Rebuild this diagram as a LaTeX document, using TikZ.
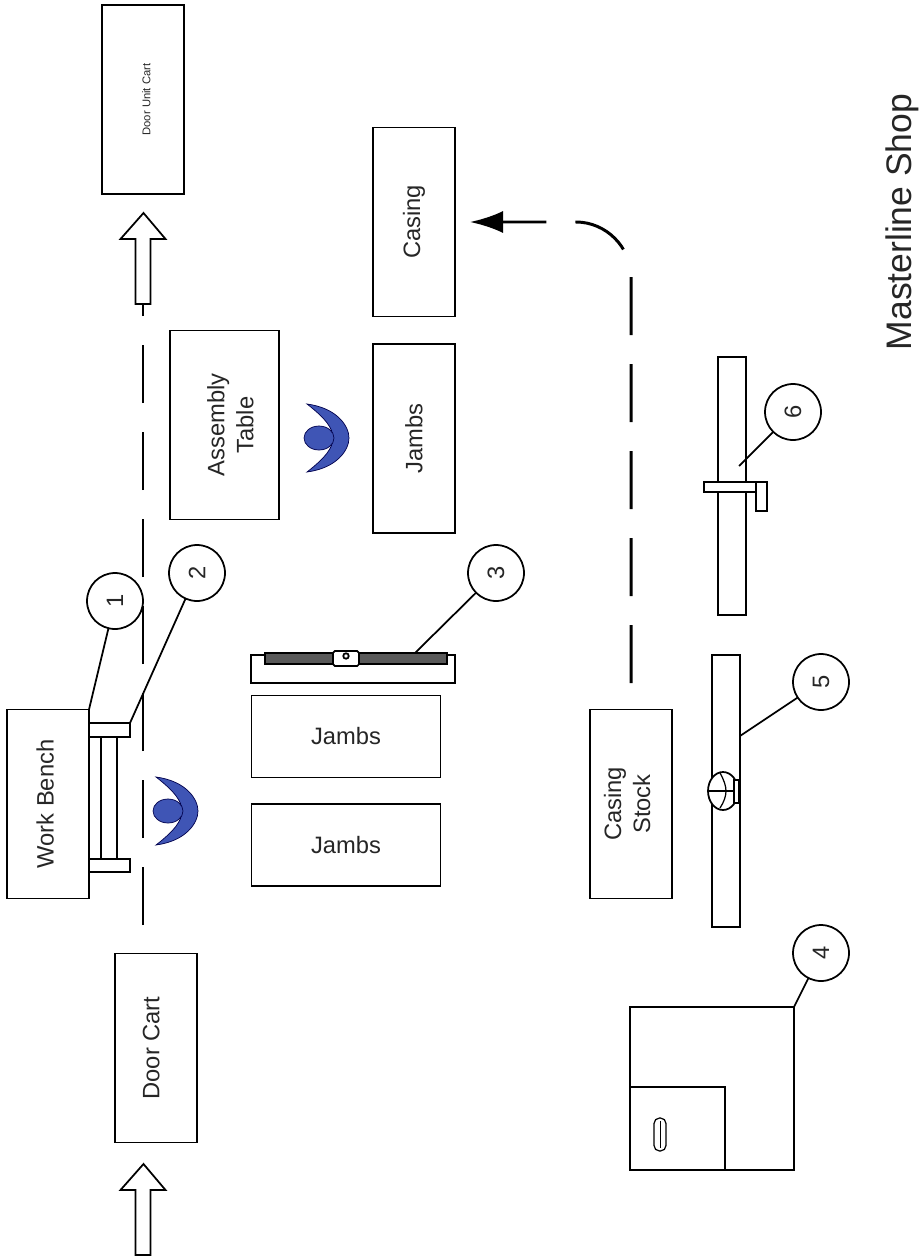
\documentclass[tikz,border=0pt]{standalone}
\usepackage{fontspec}
\usepackage{xcolor}
\usepackage{tikz}
\usetikzlibrary{shapes}
\usetikzlibrary{arrows.meta}
\setmainfont{Liberation Sans}
\definecolor{workerblue}{HTML}{3F55B5}
\tikzset{
  bigbox/.style={draw, fill=white, inner sep=0pt, outer sep=0pt, minimum width=3.78cm, minimum height=1.64cm, align=center, text=black!85, font=\fontsize{13.5}{16.5}\selectfont},
  sidebox/.style={bigbox, rotate=90},
  part/.style={draw, fill=white, inner sep=0pt, outer sep=0pt},
  callout/.style={draw, fill=white, circle, rotate=90, inner sep=0pt, outer sep=0pt, minimum size=1.12cm, text=black!85, font=\fontsize{13.5}{16.5}\selectfont},
  flowline/.style={line width=1.7pt, dash pattern=on 1.16cm off 0.58cm}
}
\newcommand{\openarrow}[2]{\draw[fill=white, line width=1pt]
(#1,#2) -- ++(22,26) -- ++(-15,0) -- ++(0,65) -- ++(-15,0) -- ++(0,-65) -- ++(-15,0) -- cycle;}
\newcommand{\worker}[2]{\begin{scope}[shift={(#1,#2)}]
\fill[workerblue, draw=black!70!blue, line width=.4pt] (-12,-34) .. controls (18,-30) and (30,-12) .. (30,0)
.. controls (30,12) and (18,30) .. (-12,34) .. controls (6,20) and (14,10) .. (14,0)
.. controls (14,-10) and (6,-20) .. cycle;
\fill[workerblue, draw=black!70!blue, line width=.4pt] (0,0) ellipse [x radius=15, y radius=12];
\end{scope}}

\begin{document}
\begin{tikzpicture}[x=0.02cm, y=-0.02cm, line width=1pt]
\useasboundingbox (0,0) rectangle (921,1257);
\node[rotate=90, font=\fontsize{20.2}{24}\selectfont, text=black!85] (title) at (902,222) {Masterline Shop};

% flow lines
\coordinate (benchstart) at (143,925);
\coordinate (cartend) at (143,303);
\draw[flowline] (benchstart) -- (cartend);
\coordinate (stockstart) at (631,683);
\coordinate (casingend) at (470,222);
\draw[flowline, -{Latex[length=0.66cm, width=0.44cm]}] (stockstart) -- (631,277)
  .. controls (631,247) and (606,222) .. (576,222) -- (casingend);
\openarrow{143.5}{213}
\openarrow{143.5}{1164}

% carts and tables
\node[sidebox, font=\fontsize{6.4}{8}\selectfont, text height=0.30cm] (unitcart) at (143,99.5) {Door Unit Cart};
\node[sidebox] (casing) at (414,222) {Casing};
\node[sidebox, minimum height=2.18cm, text height=1.16cm] (assembly) at (224.5,425) {Assembly\\Table};
\node[sidebox] (jambsa) at (414,438.5) {Jambs};
\node[bigbox] (jambsb) at (346,736.5) {Jambs};
\node[bigbox] (jambsc) at (346,845) {Jambs};
\node[sidebox, text depth=0.12cm] (bench) at (48,804) {Work Bench};
\node[sidebox, text depth=0.20cm] (doorcart) at (156,1048) {Door Cart};
\node[sidebox, text depth=0.16cm] (stock) at (631,804) {Casing\\Stock};

% door clamps on the bench
\node[part, minimum width=0.82cm, minimum height=0.28cm] (clampa) at (109.5,730) {};
\node[part, minimum width=0.82cm, minimum height=0.26cm] (clampb) at (109.5,865.5) {};
\draw ([xshift=-0.17cm]clampa.south) -- ([xshift=-0.17cm]clampb.north);
\draw ([xshift=0.15cm]clampa.south) -- ([xshift=0.15cm]clampb.north);

% saw with rail
\node[part, minimum width=4.08cm, minimum height=0.56cm] (sawtable) at (353,669) {};
\node[draw, fill=black!65, inner sep=0pt, minimum width=3.64cm, minimum height=0.22cm] (sawrail) at (356,658.5) {};
\node[part, rounded corners=1pt, minimum width=0.52cm, minimum height=0.30cm] (slider) at (346,658.5) {};
\node[draw, circle, inner sep=0pt, minimum size=0.11cm] (sliderpin) at (346,656) {};
\coordinate (railpoint) at (415,653);

% miter station
\node[part, minimum width=0.56cm, minimum height=5.44cm] (stripfive) at (726,791) {};
\node[part, ellipse, minimum width=0.60cm, minimum height=0.76cm] (blade) at (723,791) {};
\draw[line width=.7pt] (720,773) .. controls (724,780) and (726,786) .. (726,791) .. controls (726,796) and (724,802) .. (720,808);
\draw[line width=.7pt] (708,791) -- (739,791);
\node[part, minimum width=0.10cm, minimum height=0.46cm] (fence) at (736.5,791.5) {};
\coordinate (stripfivepoint) at (740,736);

\node[part, minimum width=0.56cm, minimum height=5.16cm] (stripsix) at (732,486) {};
\node[part, minimum width=1.06cm, minimum height=0.20cm] (stopbar) at (730.5,487) {};
\node[part, minimum width=0.22cm, minimum height=0.58cm] (stophandle) at (761.5,496.5) {};
\coordinate (stripsixpoint) at (739,466);

% cabinet
\node[part, minimum width=3.28cm, minimum height=3.26cm] (cabinet) at (712,1088.5) {};
\node[part, minimum width=1.90cm, minimum height=1.66cm] (cabinetdoor) at (677.5,1128.5) {};
\node[draw, rounded corners=0.11cm, inner sep=0pt, minimum width=0.24cm, minimum height=0.66cm, line width=.7pt] (handle) at (660,1134.5) {};
\draw[line width=.5pt] ([yshift=0.08cm]handle.south) -- ([yshift=-0.08cm]handle.north);

\worker{319}{438}
\worker{168}{811}

% numbered callouts
\node[callout] (numa) at (115,601) {1};
\node[callout] (numb) at (197,573) {2};
\node[callout] (numc) at (496,573) {3};
\node[callout] (numd) at (821,953) {4};
\node[callout] (nume) at (821,682) {5};
\node[callout] (numf) at (793,412) {6};
\draw (numa) -- (bench.south east);
\draw (numb) -- (clampa.north east);
\draw (numc) -- (railpoint);
\draw (numd) -- (cabinet.north east);
\draw (nume) -- (stripfivepoint);
\draw (numf) -- (stripsixpoint);
\end{tikzpicture}
\end{document}
